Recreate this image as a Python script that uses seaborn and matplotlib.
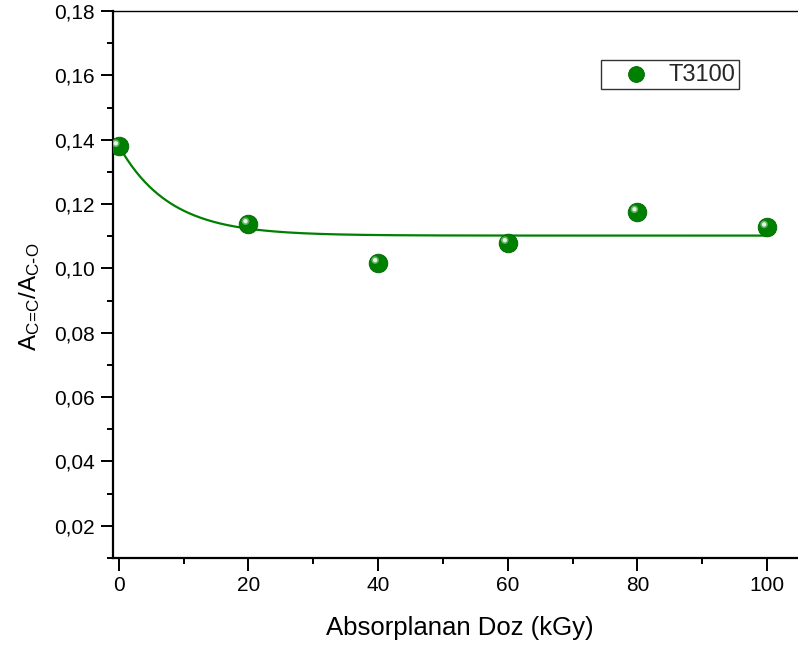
import numpy as np
import pandas as pd
import matplotlib
matplotlib.use("Agg")
import matplotlib.pyplot as plt
import matplotlib.transforms as mtrans
from matplotlib.ticker import MultipleLocator, FuncFormatter
import seaborn as sns

# Data
dose = [0, 20, 40, 60, 80, 100]
ratio = [0.1381, 0.1139, 0.1018, 0.1080, 0.1176, 0.1129]
series_name = "T3100"
# Exponential decay fit parameters (y = y0 + A*exp(-x/t))
fit_y0 = 0.1102
fit_A = 0.0279
fit_t = 7.8

sns.set_theme(style="ticks")
plt.rcParams['font.family'] = ['Liberation Sans', 'DejaVu Sans']
plt.rcParams['mathtext.default'] = 'regular'

df = pd.DataFrame({"dose": dose, "ratio": ratio})
xf = np.linspace(min(dose), max(dose), 300)
fit_df = pd.DataFrame({"dose": xf, "ratio": fit_y0 + fit_A * np.exp(-xf / fit_t)})

W, H = 798, 648
fig = plt.figure(figsize=(W / 100, H / 100), dpi=100)
ax = fig.add_axes([113 / W, (H - 558) / H, (806 - 113) / W, (558 - 11) / H])

green = "#008000"
sns.lineplot(data=fit_df, x="dose", y="ratio", ax=ax, color=green, lw=1.6, zorder=2)
sns.scatterplot(data=df, x="dose", y="ratio", ax=ax, color=green, s=180,
                edgecolor="#006400", linewidth=0.6, zorder=3, label=series_name)
hl = mtrans.offset_copy(ax.transData, fig=fig, x=-3, y=2.5, units='dots')
ax.scatter(dose, ratio, s=30, color="#5fae5f", edgecolor="none", zorder=4, transform=hl)
ax.scatter(dose, ratio, s=10, color="#e4f4e4", edgecolor="none", zorder=5, transform=hl)

ax.set_xlim(-0.9, 106)
ax.set_ylim(0.01, 0.18)
ax.xaxis.set_major_locator(MultipleLocator(20))
ax.xaxis.set_minor_locator(MultipleLocator(10))
ax.yaxis.set_major_locator(MultipleLocator(0.02))
ax.yaxis.set_minor_locator(MultipleLocator(0.01))
ax.set_yticks([0.02, 0.04, 0.06, 0.08, 0.10, 0.12, 0.14, 0.16, 0.18])
ax.yaxis.set_major_formatter(FuncFormatter(lambda v, p: f"{v:.2f}".replace(".", ",")))
ax.xaxis.set_major_formatter(FuncFormatter(lambda v, p: f"{v:.0f}"))

ax.tick_params(which='major', direction='out', length=9, width=1.4, labelsize=15, pad=4, color='black', labelcolor='black')
ax.tick_params(which='minor', direction='out', length=4, width=1.4, color='black')

for s in ['left', 'bottom']:
    ax.spines[s].set_linewidth(1.6)
    ax.spines[s].set_color('black')
ax.spines['top'].set_linewidth(1.0)
ax.spines['top'].set_color('black')
ax.spines['right'].set_visible(False)

ax.set_xlabel("Absorplanan Doz (kGy)", fontsize=18.5, labelpad=15, color='black')
ax.set_ylabel(r"$A_{C\!=\!C}/A_{C\text{-}O}$", fontsize=17.5, color='black')
ax.yaxis.set_label_coords(-0.103, 0.478)

leg = ax.legend(loc='upper left', bbox_to_anchor=(601 / W, 1 - 60 / H), bbox_transform=fig.transFigure,
                borderaxespad=0, fancybox=False, frameon=True, fontsize=17, handletextpad=0.05,
                handlelength=2.65, borderpad=0.15, markerscale=0.85)
leg.get_frame().set_edgecolor('black')
leg.get_frame().set_linewidth(1.0)

fig.savefig("out.png", dpi=100)
